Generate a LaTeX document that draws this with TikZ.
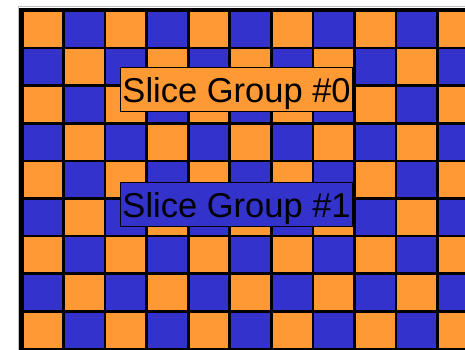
\documentclass[tikz,border=0pt]{standalone}
\usepackage{fontspec}
\setmainfont{Liberation Sans}
\definecolor{cellorange}{HTML}{FF9933}
\definecolor{cellblue}{HTML}{3333CC}
\begin{document}
\begin{tikzpicture}[x=1pt,y=-1pt,
  labelbox/.style={draw=black, line width=1.2pt, inner sep=0pt,
    minimum width=232pt, minimum height=44pt, text height=25pt, text depth=0pt,
    font=\fontsize{34.5}{36}\selectfont, anchor=north west}]
\useasboundingbox (0,0) rectangle (465,350);
\fill[black] (19,8) rectangle (465,350);
\draw[black!25, line width=1pt] (18,350) -- (18,6.5) -- (465,6.5);
\foreach \r in {0,...,8} \foreach \c in {0,...,10} {
  \pgfmathsetmacro\x{22+41.55*\c}
  \pgfmathsetmacro\y{10.5+37.6*\r}
  \pgfmathtruncatemacro\p{mod(\r+\c,2)}
  \ifnum\p=0 \def\cellcol{cellorange}\else\def\cellcol{cellblue}\fi
  \fill[\cellcol] ({max(\x+1.3,24)},{max(\y+1.3,12)}) rectangle ({\x+41.55-1.3},{\y+37.6-1.3});
}
\node[labelbox, fill=cellorange] (sg0) at (120,67) {Slice Group \#0};
\node[labelbox, fill=cellblue] (sg1) at (120,182) {Slice Group \#1};
\end{tikzpicture}
\end{document}
